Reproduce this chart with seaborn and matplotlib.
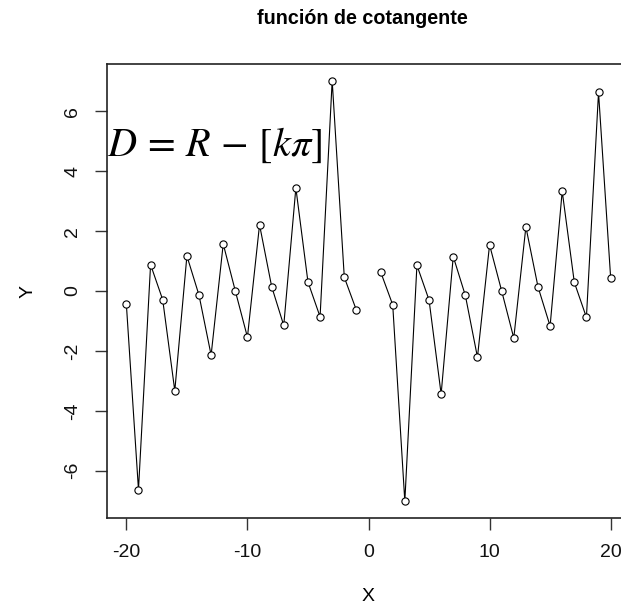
import numpy as np
import pandas as pd
import matplotlib
matplotlib.use("Agg")
import matplotlib.pyplot as plt
import seaborn as sns

x_neg = [-20, -19, -18, -17, -16, -15, -14, -13, -12, -11,
         -10, -9, -8, -7, -6, -5, -4, -3, -2, -1]
y_neg = [-0.45, -6.63, 0.88, -0.29, -3.33, 1.17, -0.14, -2.14, 1.57, 0.00,
         -1.54, 2.21, 0.15, -1.15, 3.44, 0.30, -0.86, 7.02, 0.46, -0.64]
x_pos = [1, 2, 3, 4, 5, 6, 7, 8, 9, 10,
         11, 12, 13, 14, 15, 16, 17, 18, 19, 20]
y_pos = [0.64, -0.46, -7.02, 0.86, -0.30, -3.44, 1.15, -0.15, -2.21, 1.54,
         0.00, -1.57, 2.14, 0.14, -1.17, 3.33, 0.29, -0.88, 6.63, 0.45]
x_ticks = [-20, -10, 0, 10, 20]
y_ticks = [-6, -4, -2, 0, 2, 4, 6]

df = pd.DataFrame({
    "x": x_neg + x_pos,
    "y": y_neg + y_pos,
    "seg": ["a"] * len(x_neg) + ["b"] * len(x_pos),
})

sns.set_theme(style="white")
plt.rcParams["font.family"] = ["Liberation Sans", "DejaVu Sans"]
plt.rcParams["mathtext.fontset"] = "stix"
plt.rcParams["text.color"] = "black"
plt.rcParams["axes.labelcolor"] = "black"

fig = plt.figure(figsize=(6.21, 6.10), dpi=100)
ax = fig.add_axes([107 / 621, 92 / 610, (630 - 107) / 621, (518 - 64) / 610])

sns.lineplot(data=df, x="x", y="y", units="seg", estimator=None, sort=False,
             color="black", linewidth=0.8, marker="o", markersize=5.2,
             markerfacecolor="white", markeredgecolor="black",
             markeredgewidth=0.8, ax=ax)

ax.set_xlim(-21.6, 21.6)
ax.set_ylim(-7.576, 7.576)
ax.set_xticks(x_ticks)
ax.set_yticks(y_ticks)
ax.set_xticklabels([str(v) for v in x_ticks], fontsize=14)
ax.set_yticklabels([str(v) for v in y_ticks], fontsize=14, rotation=90, va="center")
ax.tick_params(axis="both", direction="out", length=8.5, width=1, color="#333333",
               bottom=True, left=True, pad=10, labelcolor="#111111")
for s in ax.spines.values():
    s.set_visible(True)
    s.set_color("#222222")
    s.set_linewidth(1.2)

ax.set_xlabel("X", fontsize=14, labelpad=20)
ax.set_ylabel("Y", fontsize=14, labelpad=20)
fig.text(362 / 621, 1 - 18 / 610, "función de cotangente", ha="center", va="center",
         fontsize=14.2, fontweight="bold", color="black")

ax.text(0.0, 1 - (145 - 64) / (518 - 64), r"$D\,=\,R\,-\,[k\pi]$", transform=ax.transAxes,
        ha="left", va="center", fontsize=29, color="black")

fig.savefig("out.png", dpi=100)
